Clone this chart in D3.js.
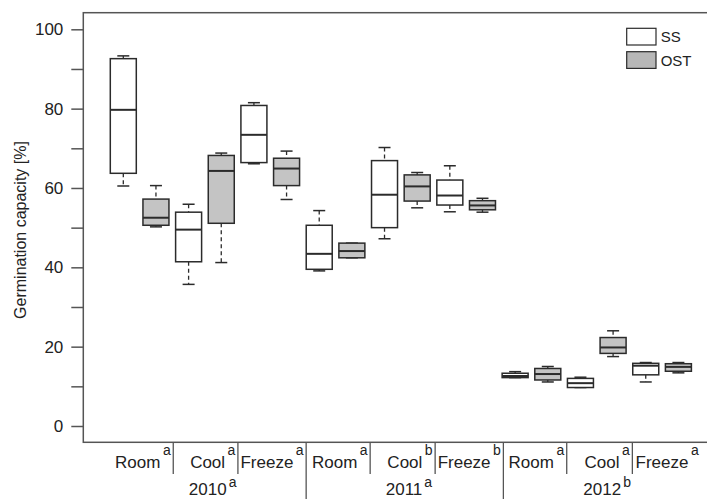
<!DOCTYPE html>
<html>
<head>
<meta charset="utf-8">
<script src="https://d3js.org/d3.v7.min.js"></script>
<style>
  body { margin: 0; background: #fff; }
  svg { display: block; font-family: "Liberation Sans", Arial, sans-serif; }
</style>
</head>
<body>
<div id="chart"></div>
<script>
// box order: year -> storage -> method (SS, OST)
const years = ["2010", "2011", "2012"];
const yearLetters = ["a", "a", "b"];
const storages = ["Room", "Cool", "Freeze"];
const storageLetters = ["a", "a", "a", "a", "b", "b", "a", "a", "a"];
const methods = ["SS", "OST"];

const lowWhisker  = [60.5, 50.2, 35.7, 41.2, 66.1, 57.1, 39.1, 42.4, 47.2, 55.0, 54.0, 53.9, 12.2, 11.1,  9.7, 17.5, 11.1, 13.4];
const q1          = [63.7, 50.6, 41.4, 51.1, 66.4, 60.6, 39.5, 42.4, 50.0, 56.7, 55.7, 54.5, 12.2, 11.6,  9.7, 18.3, 12.9, 13.8];
const medians     = [79.7, 52.5, 49.5, 64.3, 73.4, 64.9, 43.4, 44.1, 58.3, 60.4, 58.1, 55.6, 12.6, 13.1, 10.8, 19.8, 15.2, 14.9];
const q3          = [92.6, 57.2, 53.9, 68.2, 80.8, 67.5, 50.6, 46.1, 66.9, 63.3, 62.0, 56.8, 13.3, 14.5, 12.0, 22.3, 15.8, 15.7];
const highWhisker = [93.3, 60.6, 55.9, 68.8, 81.5, 69.3, 54.3, 46.1, 70.2, 63.9, 65.6, 57.4, 13.7, 15.0, 12.3, 24.0, 16.0, 16.0];

// label cell edges on the box index axis (drawn by hand in the original)
const cellEdges = [-0.42, 1.53, 3.51, 5.6, 7.56, 9.55, 11.64, 13.58, 15.59, 17.7];
const yTicks = [0, 20, 40, 60, 80, 100];
const yMinorTicks = [10, 30, 50, 70, 90];

const width = 707, height = 499;
const frame = { left: 83.3, top: 12.7, bottom: 442.3 };

const boxes = lowWhisker.map((lo, i) => ({
    index: i,
    method: methods[i % 2],
    lo: lo, q1: q1[i], med: medians[i], q3: q3[i], hi: highWhisker[i]
}));

const x = d3.scaleLinear().domain([0, 17]).range([123.3, 678.4]);
const y = d3.scaleLinear().domain([0, 100]).range([426, 29.3]);

const fills = { SS: "#ffffff", OST: "#c4c4c4" };
const ink = "#2b2b2b";
const frameColor = "#555";
const boxW = 26, capW = 12;

const svg = d3.select("#chart").append("svg")
    .attr("width", width)
    .attr("height", height);

// frame (right side runs off the picture)
svg.append("rect")
    .attr("x", frame.left)
    .attr("y", frame.top)
    .attr("width", 640)
    .attr("height", frame.bottom - frame.top)
    .attr("fill", "none")
    .attr("stroke", frameColor)
    .attr("stroke-width", 1.5);

// y axis
const yAxis = d3.axisLeft(y)
    .tickValues(yTicks.concat(yMinorTicks))
    .tickSize(12)
    .tickPadding(8)
    .tickFormat(d => yTicks.includes(d) ? d : "");

const yG = svg.append("g")
    .attr("transform", `translate(${frame.left},0)`)
    .call(yAxis);
yG.select(".domain").remove();
yG.selectAll(".tick line").attr("stroke", frameColor).attr("stroke-width", 1.5);
yG.selectAll(".tick text")
    .attr("fill", "#222")
    .style("font-size", "17px")
    .style("font-family", "'Liberation Sans', Arial, sans-serif");

svg.append("text")
    .attr("transform", `translate(25.5,230) rotate(-90)`)
    .attr("text-anchor", "middle")
    .attr("fill", "#222")
    .style("font-size", "16px")
    .text("Germination capacity [%]");

// boxes
const g = svg.selectAll("g.box")
    .data(boxes)
    .join("g")
    .attr("class", "box");

g.append("line")
    .attr("x1", d => x(d.index)).attr("x2", d => x(d.index))
    .attr("y1", d => y(d.hi)).attr("y2", d => y(d.q3))
    .attr("stroke", ink).attr("stroke-width", 1.3)
    .attr("stroke-dasharray", "4,3");

g.append("line")
    .attr("x1", d => x(d.index)).attr("x2", d => x(d.index))
    .attr("y1", d => y(d.q1)).attr("y2", d => y(d.lo))
    .attr("stroke", ink).attr("stroke-width", 1.3)
    .attr("stroke-dasharray", "4,3");

g.append("line")
    .attr("x1", d => x(d.index) - capW / 2).attr("x2", d => x(d.index) + capW / 2)
    .attr("y1", d => y(d.hi)).attr("y2", d => y(d.hi))
    .attr("stroke", ink).attr("stroke-width", 1.5);

g.append("line")
    .attr("x1", d => x(d.index) - capW / 2).attr("x2", d => x(d.index) + capW / 2)
    .attr("y1", d => y(d.lo)).attr("y2", d => y(d.lo))
    .attr("stroke", ink).attr("stroke-width", 1.5);

g.append("rect")
    .attr("x", d => x(d.index) - boxW / 2)
    .attr("y", d => y(d.q3))
    .attr("width", boxW)
    .attr("height", d => Math.max(0.5, y(d.q1) - y(d.q3)))
    .attr("fill", d => fills[d.method])
    .attr("stroke", ink)
    .attr("stroke-width", 1.5);

g.append("line")
    .attr("x1", d => x(d.index) - boxW / 2).attr("x2", d => x(d.index) + boxW / 2)
    .attr("y1", d => y(d.med)).attr("y2", d => y(d.med))
    .attr("stroke", ink).attr("stroke-width", 2);

// category labels under the frame
const cells = d3.range(9).map(i => ({
    storage: storages[i % 3],
    letter: storageLetters[i],
    left: cellEdges[i],
    right: cellEdges[i + 1]
}));

const dividerEnd = i => (i % 3 === 0 ? height : 474);
svg.selectAll("line.divider")
    .data(cellEdges.slice(1, -1))
    .join("line")
    .attr("class", "divider")
    .attr("x1", d => x(d)).attr("x2", d => x(d))
    .attr("y1", frame.bottom)
    .attr("y2", (d, i) => dividerEnd(i + 1))
    .attr("stroke", frameColor)
    .attr("stroke-width", 1.3);

const catText = svg.selectAll("text.cat")
    .data(cells)
    .join("text")
    .attr("class", "cat")
    .attr("x", d => x(d.right) - 2.5)
    .attr("y", 467.5)
    .attr("text-anchor", "end")
    .attr("fill", "#222")
    .style("font-size", "17px");
catText.append("tspan").text(d => d.storage);
catText.append("tspan")
    .attr("dx", 2.5)
    .attr("dy", -13)
    .style("font-size", "14px")
    .text(d => d.letter);

const yearText = svg.selectAll("text.year")
    .data(years)
    .join("text")
    .attr("class", "year")
    .attr("x", (d, i) => (x(cellEdges[i * 3]) + x(cellEdges[i * 3 + 3])) / 2 - 19)
    .attr("y", 495)
    .attr("fill", "#222")
    .style("font-size", "17px");
yearText.append("tspan").text(d => d);
yearText.append("tspan")
    .attr("dx", 2)
    .attr("dy", -8.5)
    .style("font-size", "14px")
    .text((d, i) => yearLetters[i]);

// legend
const legend = svg.append("g").attr("transform", "translate(626.7,28.3)");
const legendFills = { SS: "#ffffff", OST: "#b7b7b7" };
methods.forEach((m, i) => {
    legend.append("rect")
        .attr("x", 0)
        .attr("y", i * 23.4)
        .attr("width", 29.3)
        .attr("height", 16.7)
        .attr("fill", legendFills[m])
        .attr("stroke", ink)
        .attr("stroke-width", 1.2);
    legend.append("text")
        .attr("x", 34)
        .attr("y", i * 23.4 + 14.2)
        .attr("fill", "#222")
        .style("font-size", "15px")
        .text(m);
});
</script>
</body>
</html>
